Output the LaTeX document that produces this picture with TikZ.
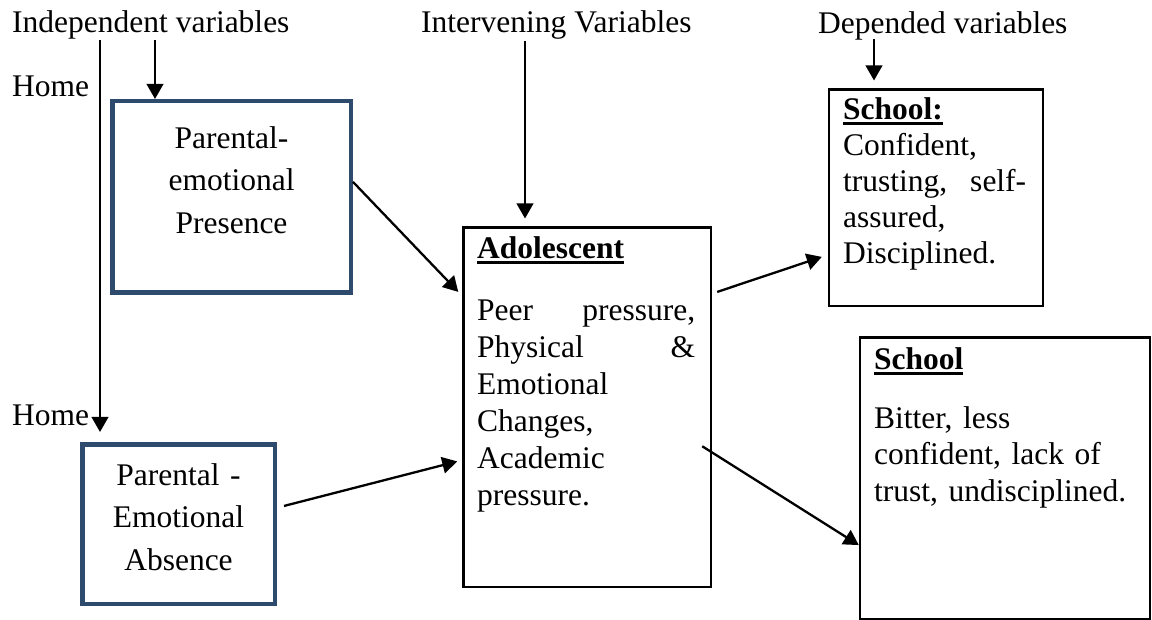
\documentclass[tikz,border=0pt]{standalone}
\usepackage{fontspec}
\setmainfont{Liberation Serif}
\usetikzlibrary{arrows.meta,calc}
\definecolor{boxblue}{RGB}{46,75,110}
\newcommand{\ulb}[1]{\begingroup\setbox0\hbox{\textbf{#1}}\rlap{\rule[-6pt]{\wd0}{3pt}}\box0\endgroup}
\newcommand{\fsz}[1]{\fontsize{31.5}{#1}\selectfont}
\begin{document}
\begin{tikzpicture}[x=1pt,y=-1pt,
  every node/.style={inner sep=0pt},
  lbl/.style={anchor=base west, font=\fsz{37}},
  bluebox/.style={draw=boxblue, line width=4.5pt},
  blackbox/.style={draw=black, line width=2.4pt},
  ctext/.style={anchor=north, align=center},
  ltext/.style={anchor=north west, align=left},
  arr/.style={draw=black, line width=2.3pt, -{Triangle[length=15pt,width=16.5pt]}}
]
\useasboundingbox (0,0) rectangle (1152,620);

% headings
\node[lbl] (indep) at (12,33) {Independent variables};
\node[lbl] (interv) at (421,33) {Intervening Variables};
\node[lbl] (dep) at (818,34) {Depended variables};
\node[lbl] (home1) at (12,97) {Home};
\node[lbl] (home2) at (12,425) {Home};

% boxes
\node[bluebox, minimum width=238.5pt, minimum height=191.5pt] (box1) at (231.5,197) {};
\node[bluebox, minimum width=192.5pt, minimum height=159.5pt] (box2) at (178.5,524) {};
\node[blackbox, minimum width=247.5pt, minimum height=359pt] (adol) at (587.25,407.2) {};
\node[blackbox, minimum width=214pt, minimum height=216.3pt] (sch1) at (936,197.85) {};
\node[blackbox, minimum width=289.7pt, minimum height=281pt] (sch2) at (1004.85,478.2) {};

% box texts
\node[ctext, text width=230pt, font=\fsz{42.5}] (t1) at (231.5,122)
  {\rule{0pt}{26pt}Parental-\\emotional\\Presence};
\node[ctext, text width=185pt, font=\fsz{42.5}] (t2) at (178.5,459)
  {\rule{0pt}{26pt}Parental -\\Emotional\\Absence};
\node[ltext, text width=218pt, font=\fsz{37}] (tadol) at (477,232)
  {\rule{0pt}{26pt}\ulb{Adolescent}\\[25pt]Peer\hfill pressure,\\Physical\hfill\&\\Emotional\\Changes,\\Academic\\pressure.};
\node[ltext, text width=183pt, font=\fsz{36}] (tsch1) at (843,93)
  {\rule{0pt}{26pt}\ulb{School:}\\Confident,\\trusting,\hfill self-\\assured,\\Disciplined.};
\node[ltext, text width=265pt, font=\fsz{36.5}] (tsch2) at (874,343)
  {\rule{0pt}{26pt}\ulb{School}\\[22.5pt]Bitter, less\\confident, lack of\\trust, undisciplined.};

% vertical arrows
\coordinate (vtop) at (100,40);
\coordinate (vend) at (100,432);
\draw[arr] (vtop) -- (vend);
\coordinate (a1top) at (155,40);
\draw[arr] (a1top) -- (a1top |- box1.north);
\coordinate (a2top) at (525,41);
\draw[arr, shorten >=8pt] (a2top) -- (a2top |- adol.north);
\coordinate (a3top) at (874,39);
\draw[arr, shorten >=8pt] (a3top) -- (a3top |- sch1.north);

% diagonal arrows
\draw[arr] ($(box1.north east)!0.423!(box1.south east)$)
  -- ([xshift=-4pt]$(adol.north west)!0.181!(adol.south west)$);
\draw[arr] ([xshift=7pt]$(box2.north east)!0.39!(box2.south east)$)
  -- ([xshift=-5pt]$(adol.north west)!0.65!(adol.south west)$);
\draw[arr] ([xshift=5pt]$(adol.north east)!0.181!(adol.south east)$)
  -- ([xshift=-6pt]$(sch1.north west)!0.77!(sch1.south west)$);
\draw[arr] ([xshift=-10pt]$(adol.north east)!0.608!(adol.south east)$)
  -- ($(sch2.north west)!0.736!(sch2.south west)$);
\end{tikzpicture}
\end{document}
